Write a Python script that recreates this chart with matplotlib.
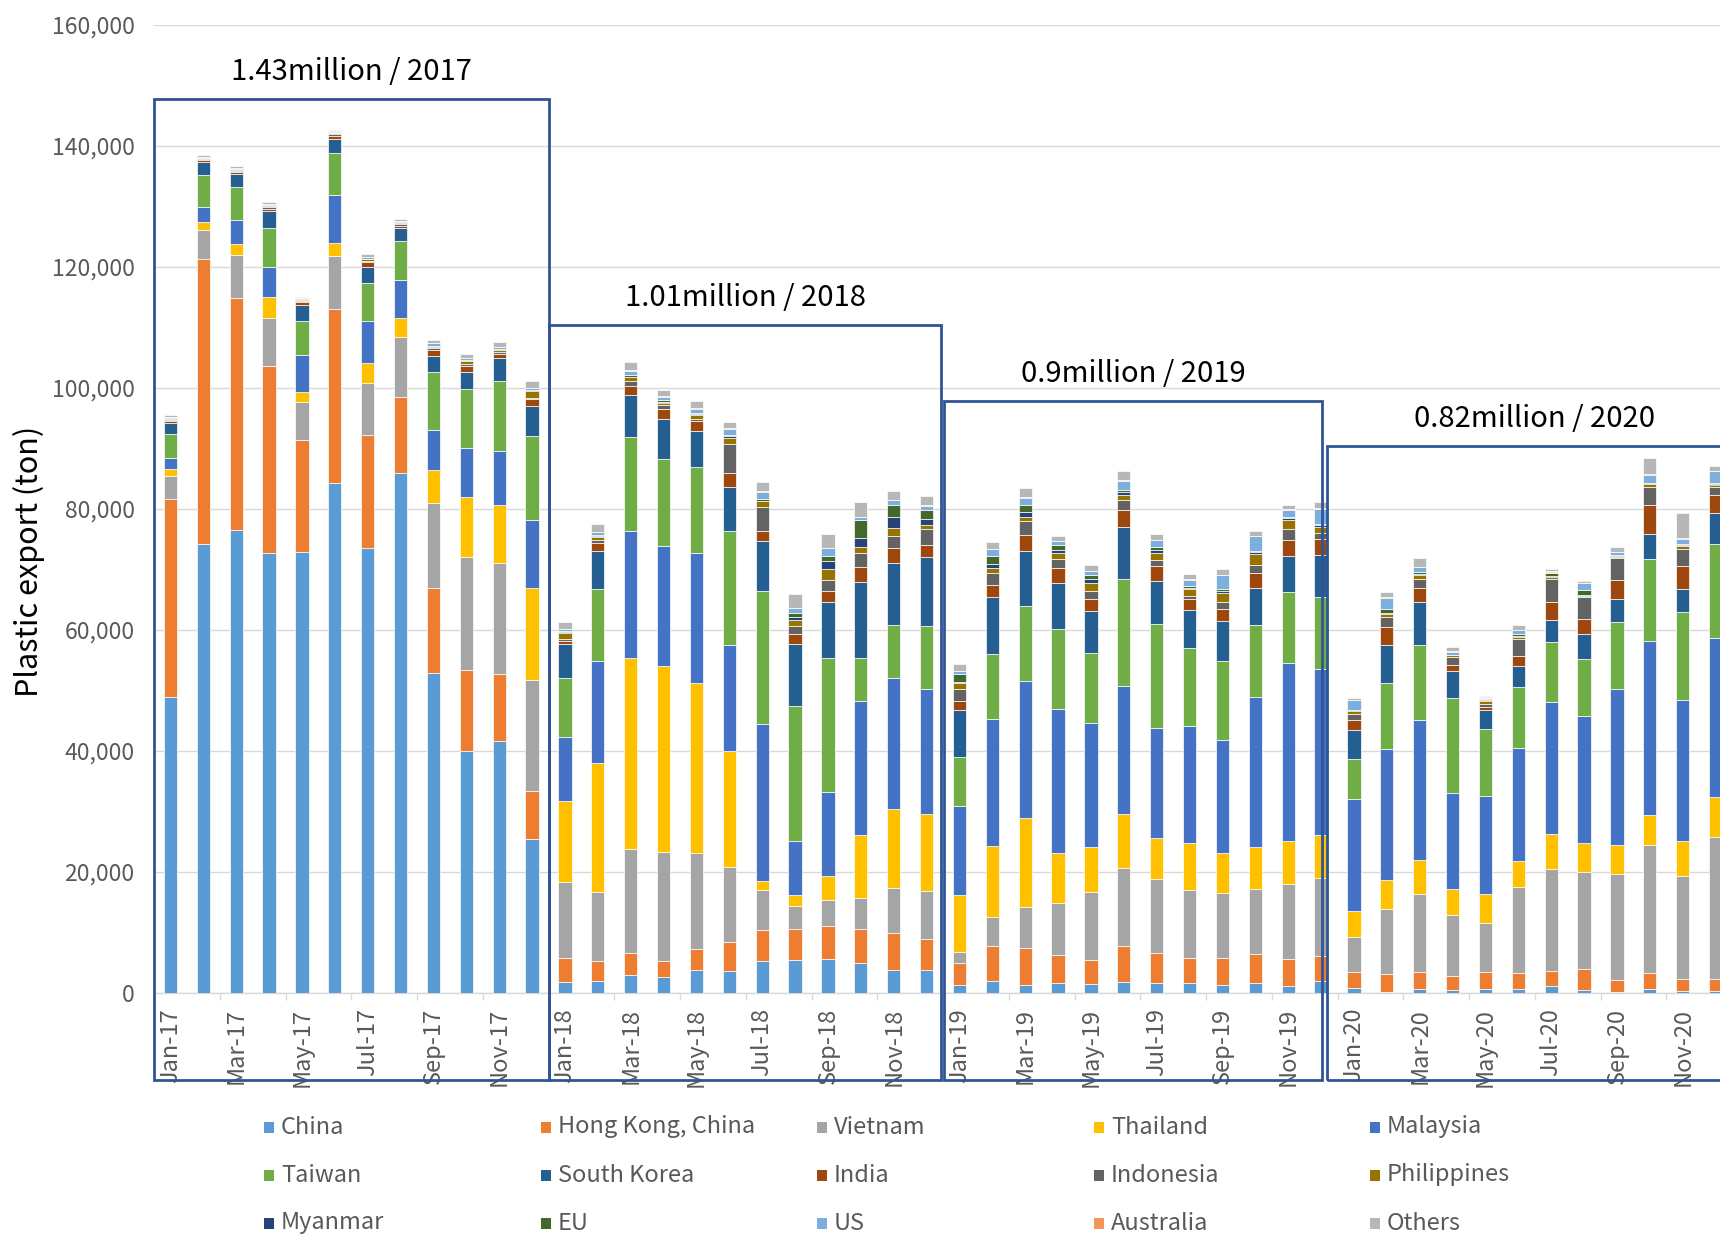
import matplotlib
matplotlib.use('Agg')
import matplotlib.pyplot as plt
from matplotlib.patches import Rectangle
from matplotlib.ticker import FuncFormatter, MultipleLocator
import numpy as np

plt.rcParams['font.family'] = ['Noto Sans CJK JP', 'DejaVu Sans']

months = ['Jan', 'Feb', 'Mar', 'Apr', 'May', 'Jun', 'Jul', 'Aug', 'Sep', 'Oct', 'Nov', 'Dec']
years = ['17', '18', '19', '20']
year_titles = ['1.43million / 2017', '1.01million / 2018', '0.9million / 2019', '0.82million / 2020']

countries = ['China', 'Hong Kong, China', 'Vietnam', 'Thailand', 'Malaysia',
             'Taiwan', 'South Korea', 'India', 'Indonesia', 'Philippines',
             'Myanmar', 'EU', 'US', 'Australia', 'Others']
colors = ['#5B9BD5', '#ED7D31', '#A5A5A5', '#FFC000', '#4472C4',
          '#70AD47', '#255E91', '#9E480E', '#636363', '#997300',
          '#264478', '#43682B', '#7CAFDD', '#F1975A', '#B7B7B7']

# monthly plastic exports (ton), Jan-17 .. Dec-20
china = [48800, 74100, 76500, 72600, 72900, 84200, 73500, 85850, 52800, 40000, 41650, 25400,
         1800, 2000, 2900, 2550, 3700, 3550, 5200, 5450, 5550, 4850, 3800, 3750,
         1300, 2000, 1300, 1650, 1500, 1800, 1600, 1600, 1200, 1650, 1050, 1900,
         800, 150, 550, 400, 650, 550, 1100, 400, 50, 600, 250, 250]
hong_kong = [32800, 47200, 38400, 31000, 18500, 28850, 18700, 12650, 14050, 13400, 11100, 7950,
             4000, 3300, 3600, 2650, 3450, 4900, 5100, 5000, 5500, 5600, 6000, 5200,
             3650, 5750, 6100, 4600, 3950, 5950, 4900, 4100, 4600, 4800, 4500, 4200,
             2600, 3000, 2800, 2400, 2800, 2650, 2550, 3450, 2000, 2700, 1950, 2050]
vietnam = [3850, 4800, 7000, 8000, 6250, 8750, 8500, 9900, 14150, 18600, 18350, 18300,
           12550, 11400, 17200, 18100, 15950, 12400, 6650, 3850, 4300, 5200, 7550, 7900,
           1800, 4800, 6800, 8550, 11200, 12800, 12250, 11350, 10750, 10750, 12450, 12900,
           5800, 10750, 13000, 10000, 8000, 14200, 16800, 16050, 17600, 21050, 17100, 23450]
thailand = [1100, 1300, 1800, 3400, 1650, 2100, 3350, 3150, 5450, 9900, 9550, 15200,
            13350, 21250, 31600, 30750, 28100, 19100, 1550, 1850, 3950, 10400, 13050, 12700,
            9350, 11650, 14700, 8300, 7450, 8950, 6850, 7750, 6550, 6900, 7050, 7100,
            4300, 4650, 5600, 4350, 4800, 4450, 5850, 4800, 4800, 5050, 5750, 6600]
malaysia = [1870, 2500, 4000, 5000, 6050, 8000, 6900, 6300, 6600, 8150, 8950, 11250,
            10550, 16900, 21000, 19850, 21500, 17500, 25900, 8950, 13800, 22100, 21650, 20600,
            14750, 21000, 22650, 23850, 20450, 21250, 18200, 19350, 18650, 24850, 29450, 27350,
            18450, 21700, 23050, 15800, 16300, 18600, 21700, 21100, 25800, 28650, 23300, 26350]
taiwan = [3870, 5250, 5400, 6450, 5650, 6950, 6300, 6350, 9550, 9750, 11550, 13950,
          9800, 11950, 15550, 14350, 14200, 18850, 22050, 22250, 22150, 7100, 8700, 10500,
          8100, 10800, 12350, 13150, 11600, 17600, 17100, 12850, 13100, 11900, 11700, 11950,
          6700, 10900, 12450, 15700, 11000, 10100, 9950, 9400, 11050, 13600, 14500, 15450]
south_korea = [1870, 2200, 2200, 2700, 2700, 2200, 2650, 2150, 2700, 2800, 3800, 5000,
               5650, 6200, 6950, 6650, 6000, 7300, 8150, 10250, 9350, 12600, 10300, 11350,
               7850, 9400, 9050, 7550, 6900, 8700, 7150, 6300, 6600, 6100, 6050, 6900,
               4700, 6300, 7150, 4550, 3150, 3450, 3600, 4050, 3850, 4250, 3850, 5100]
india = [330, 280, 330, 400, 440, 600, 900, 430, 950, 1050, 700, 1100,
         500, 1250, 1550, 1550, 1600, 2300, 1750, 1700, 1800, 2500, 2400, 1950,
         1400, 1950, 2750, 2500, 2050, 2700, 2550, 1850, 2050, 2500, 2650, 2650,
         1650, 3000, 2300, 900, 450, 1650, 3000, 2500, 3050, 4650, 3850, 2950]
indonesia = [170, 160, 230, 280, 250, 280, 150, 200, 300, 250, 200, 200,
             300, 550, 700, 650, 250, 4850, 3850, 1300, 1750, 2400, 2100, 2650,
             2000, 2000, 2200, 1600, 1350, 1650, 900, 400, 1000, 1300, 1750, 1000,
             1000, 1650, 1400, 1400, 650, 2750, 3850, 3700, 3600, 3050, 2750, 1350]
philippines = [150, 120, 150, 200, 130, 150, 250, 150, 200, 450, 300, 1100,
               950, 550, 650, 450, 700, 1000, 1000, 950, 1950, 900, 1300, 700,
               1000, 900, 650, 1000, 1300, 900, 1250, 1150, 1550, 1800, 1550, 1100,
               500, 500, 800, 250, 400, 400, 350, 150, 200, 450, 600, 450]
myanmar = [100, 60, 60, 60, 50, 60, 50, 100, 100, 100, 100, 100,
           150, 150, 150, 150, 150, 250, 150, 550, 1250, 1450, 1700, 1000,
           200, 550, 950, 450, 550, 450, 400, 250, 400, 350, 200, 250,
           150, 150, 150, 50, 100, 150, 150, 100, 100, 100, 100, 100]
eu = [50, 40, 40, 50, 40, 40, 50, 150, 100, 100, 100, 150,
      150, 150, 200, 200, 250, 200, 250, 600, 850, 3000, 2100, 1500,
      1350, 1400, 1150, 800, 750, 400, 450, 300, 300, 150, 200, 250,
      150, 700, 300, 100, 200, 400, 500, 850, 200, 100, 100, 100]
us = [150, 150, 150, 200, 200, 150, 300, 200, 400, 350, 350, 250,
      300, 450, 750, 550, 650, 1050, 1200, 850, 1250, 500, 750, 700,
      350, 1100, 1200, 650, 650, 1500, 1150, 1000, 2300, 2400, 1250, 2450,
      1550, 1850, 750, 450, 250, 600, 200, 1150, 500, 1400, 950, 2000]
australia = [50, 40, 40, 50, 40, 40, 50, 50, 50, 50, 50, 50,
             100, 100, 100, 100, 100, 100, 100, 100, 100, 100, 100, 100,
             50, 50, 50, 50, 50, 50, 50, 50, 50, 50, 50, 50,
             50, 50, 50, 50, 50, 50, 50, 50, 50, 50, 50, 50]
others = [250, 200, 320, 300, 200, 200, 400, 250, 450, 700, 800, 1100,
          1100, 1200, 1350, 1100, 1150, 900, 1550, 2300, 2350, 2400, 1450, 1450,
          1100, 1150, 1450, 850, 900, 1600, 1050, 950, 900, 800, 750, 1050,
          350, 850, 1450, 800, 300, 700, 350, 300, 750, 2650, 4250, 800]

series = [china, hong_kong, vietnam, thailand, malaysia, taiwan, south_korea, india,
          indonesia, philippines, myanmar, eu, us, australia, others]

labels = [f'{m}-{y}' for y in years for m in months]

W, H = 1720, 1235
fig = plt.figure(figsize=(W / 100, H / 100), dpi=100)
ax = fig.add_axes([154 / W, (H - 992.7) / H, 1578 / W, 968 / H])

x = np.arange(len(labels))
bottom = np.zeros(len(labels))
for name, color, values in zip(countries, colors, series):
    ax.bar(x, values, width=0.4, bottom=bottom, color=color,
           edgecolor='white', linewidth=0.5, label=name, zorder=3)
    bottom += np.array(values)

ax.set_xlim(-0.5, 47.5)
ax.set_ylim(0, 160000)
ax.yaxis.set_major_locator(MultipleLocator(20000))
ax.yaxis.set_major_formatter(FuncFormatter(lambda v, p: f'{v:,.0f}'))
ax.grid(axis='y', color='#D9D9D9', linewidth=1.0, zorder=0)
ax.set_axisbelow(True)
for s in ['left', 'right', 'top']:
    ax.spines[s].set_visible(False)
ax.spines['bottom'].set_color('#D9D9D9')
ax.spines['bottom'].set_linewidth(1.0)
ax.tick_params(axis='y', length=0, pad=14, labelsize=16.5, labelcolor='#595959')

ax.set_xticks(x[::2])
ax.set_xticklabels(labels[::2], rotation=90, va='top', ha='center')
ax.tick_params(axis='x', which='major', length=0, pad=11, labelsize=17, labelcolor='#595959')
ax.set_xticks(np.arange(-0.5, 48, 2), minor=True)
ax.tick_params(axis='x', which='minor', length=5, width=1, color='#D9D9D9')

# year boxes with totals
box_left = [-0.5, 11.52, 23.53, 35.17]
box_right = [11.5, 23.45, 35.03, 47.8]
box_top = [147800, 110400, 97800, 90400]
box_bottom = -14400
for l, r, t, title in zip(box_left, box_right, box_top, year_titles):
    ax.add_patch(Rectangle((l, box_bottom), r - l, t - box_bottom, fill=False,
                           edgecolor='#2F5597', linewidth=2, clip_on=False, zorder=5))
    ax.text((l + r) / 2, t + 4400, title, ha='center', va='center',
            fontsize=21, color='black')

fig.text(29 / W, 1 - 561 / H, 'Plastic export (ton)', rotation=90,
         ha='center', va='center', fontsize=22, color='black')

# legend, row by row
legend_x = [264, 541, 817, 1094, 1370]
legend_y = [1127, 1175, 1223]
for i, (name, color) in enumerate(zip(countries, colors)):
    r, c = divmod(i, 5)
    lx, ly = legend_x[c], legend_y[r]
    fig.patches.append(Rectangle((lx / W, 1 - (ly + 5.5) / H), 10 / W, 11 / H,
                                 transform=fig.transFigure, facecolor=color,
                                 edgecolor='none', figure=fig))
    fig.text((lx + 17) / W, 1 - ly / H, name, ha='left', va='center',
             fontsize=17, color='#595959')

fig.savefig('out.png', dpi=100)
